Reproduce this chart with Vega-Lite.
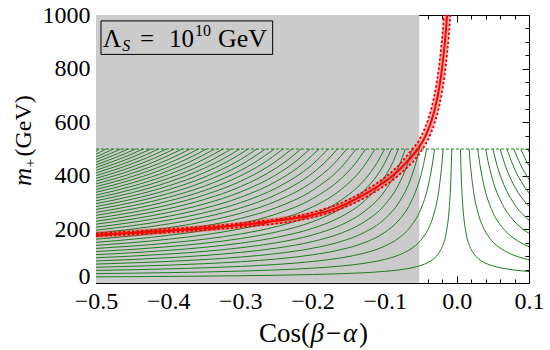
{
"$schema":"https://vega.github.io/schema/vega-lite/v6.json",
"width":433,"height":268,
"autosize":{"type":"none"},
"padding":{"left":96,"top":15,"right":21,"bottom":67},
"background":"white",
"config":{"view":{"stroke":null},"axis":{"labelFont":"Liberation Serif","labelFontSize":24,"labelColor":"black","tickColor":"black","domainColor":"black","grid":false,"titleFont":"Liberation Serif","titleFontWeight":"normal","titleColor":"black","labelOverlap":false,"labelFlush":false}},
"datasets":{
"green":[
{"s":"L0","x":-0.5,"m":23},{"s":"L0","x":-0.45,"m":23.7},{"s":"L0","x":-0.4,"m":24.6},{"s":"L0","x":-0.35,"m":25.7},{"s":"L0","x":-0.3,"m":27.1},{"s":"L0","x":-0.25,"m":28.9},{"s":"L0","x":-0.2,"m":31.6},{"s":"L0","x":-0.16,"m":34.7},{"s":"L0","x":-0.13,"m":38.1},{"s":"L0","x":-0.1,"m":43.4},{"s":"L0","x":-0.08,"m":48.9},{"s":"L0","x":-0.065,"m":55.2},{"s":"L0","x":-0.05,"m":65.3},{"s":"L0","x":-0.04,"m":76.3},{"s":"L0","x":-0.032,"m":90.4},{"s":"L0","x":-0.025,"m":111.2},{"s":"L0","x":-0.02,"m":136.5},{"s":"L0","x":-0.015,"m":183.3},{"s":"L0","x":-0.011,"m":263.6},{"s":"L0","x":-0.009,"m":343.8},{"s":"L0","x":-0.008,"m":407},{"s":"L0","x":-0.007,"m":500},
{"s":"R0","x":0.005,"m":500},{"s":"R0","x":0.006,"m":407},{"s":"R0","x":0.007,"m":343.8},{"s":"R0","x":0.009,"m":263.6},{"s":"R0","x":0.013,"m":183.3},{"s":"R0","x":0.018,"m":136.5},{"s":"R0","x":0.023,"m":111.2},{"s":"R0","x":0.03,"m":90.4},{"s":"R0","x":0.038,"m":76.3},{"s":"R0","x":0.048,"m":65.3},{"s":"R0","x":0.063,"m":55.2},{"s":"R0","x":0.078,"m":48.9},{"s":"R0","x":0.1,"m":42.9},
{"s":"L1","x":-0.5,"m":35},{"s":"L1","x":-0.45,"m":36.6},{"s":"L1","x":-0.4,"m":38.6},{"s":"L1","x":-0.35,"m":41.1},{"s":"L1","x":-0.3,"m":44.3},{"s":"L1","x":-0.25,"m":48.8},{"s":"L1","x":-0.2,"m":55.4},{"s":"L1","x":-0.16,"m":63.4},{"s":"L1","x":-0.13,"m":72.8},{"s":"L1","x":-0.1,"m":87.9},{"s":"L1","x":-0.08,"m":104.7},{"s":"L1","x":-0.065,"m":124.9},{"s":"L1","x":-0.05,"m":159.2},{"s":"L1","x":-0.04,"m":199.8},{"s":"L1","x":-0.032,"m":255.7},{"s":"L1","x":-0.025,"m":345.2},{"s":"L1","x":-0.02,"m":465},{"s":"L1","x":-0.019,"m":500},
{"s":"R1","x":0.017,"m":500},{"s":"R1","x":0.018,"m":465},{"s":"R1","x":0.023,"m":345.2},{"s":"R1","x":0.03,"m":255.7},{"s":"R1","x":0.038,"m":199.8},{"s":"R1","x":0.048,"m":159.2},{"s":"R1","x":0.063,"m":124.9},{"s":"R1","x":0.078,"m":104.7},{"s":"R1","x":0.1,"m":86.6},
{"s":"L2","x":-0.5,"m":46.9},{"s":"L2","x":-0.45,"m":49.5},{"s":"L2","x":-0.4,"m":52.6},{"s":"L2","x":-0.35,"m":56.6},{"s":"L2","x":-0.3,"m":61.9},{"s":"L2","x":-0.25,"m":69.2},{"s":"L2","x":-0.2,"m":80.2},{"s":"L2","x":-0.16,"m":94},{"s":"L2","x":-0.13,"m":110.3},{"s":"L2","x":-0.1,"m":137.5},{"s":"L2","x":-0.08,"m":168.7},{"s":"L2","x":-0.065,"m":207.3},{"s":"L2","x":-0.05,"m":275.4},{"s":"L2","x":-0.04,"m":358.9},{"s":"L2","x":-0.032,"m":478.9},{"s":"L2","x":-0.031,"m":500},
{"s":"R2","x":0.029,"m":500},{"s":"R2","x":0.03,"m":478.9},{"s":"R2","x":0.038,"m":358.9},{"s":"R2","x":0.048,"m":275.4},{"s":"R2","x":0.063,"m":207.3},{"s":"R2","x":0.078,"m":168.7},{"s":"R2","x":0.1,"m":135.2},
{"s":"L3","x":-0.5,"m":58.8},{"s":"L3","x":-0.45,"m":62.3},{"s":"L3","x":-0.4,"m":66.6},{"s":"L3","x":-0.35,"m":72.1},{"s":"L3","x":-0.3,"m":79.4},{"s":"L3","x":-0.25,"m":89.6},{"s":"L3","x":-0.2,"m":105.1},{"s":"L3","x":-0.16,"m":124.9},{"s":"L3","x":-0.13,"m":148.6},{"s":"L3","x":-0.1,"m":188.6},{"s":"L3","x":-0.08,"m":235.4},{"s":"L3","x":-0.065,"m":294.3},{"s":"L3","x":-0.05,"m":400.4},{"s":"L3","x":-0.045,"m":457.1},{"s":"L3","x":-0.042,"m":500},
{"s":"R3","x":0.04,"m":500},{"s":"R3","x":0.043,"m":457.1},{"s":"R3","x":0.048,"m":400.4},{"s":"R3","x":0.063,"m":294.3},{"s":"R3","x":0.078,"m":235.4},{"s":"R3","x":0.1,"m":185.1},
{"s":"L4","x":-0.5,"m":70.6},{"s":"L4","x":-0.45,"m":75},{"s":"L4","x":-0.4,"m":80.4},{"s":"L4","x":-0.35,"m":87.4},{"s":"L4","x":-0.3,"m":96.7},{"s":"L4","x":-0.25,"m":109.7},{"s":"L4","x":-0.2,"m":129.7},{"s":"L4","x":-0.16,"m":155.3},{"s":"L4","x":-0.13,"m":186.3},{"s":"L4","x":-0.1,"m":239.1},{"s":"L4","x":-0.08,"m":301.6},{"s":"L4","x":-0.065,"m":380.9},{"s":"L4","x":-0.056,"m":455.6},{"s":"L4","x":-0.052,"m":500},
{"s":"R4","x":0.05,"m":500},{"s":"R4","x":0.054,"m":455.6},{"s":"R4","x":0.063,"m":380.9},{"s":"R4","x":0.078,"m":301.6},{"s":"R4","x":0.1,"m":234.5},
{"s":"L5","x":-0.5,"m":82.3},{"s":"L5","x":-0.45,"m":87.6},{"s":"L5","x":-0.4,"m":94.3},{"s":"L5","x":-0.35,"m":102.7},{"s":"L5","x":-0.3,"m":114.1},{"s":"L5","x":-0.25,"m":130.1},{"s":"L5","x":-0.2,"m":154.6},{"s":"L5","x":-0.16,"m":186.4},{"s":"L5","x":-0.13,"m":225},{"s":"L5","x":-0.1,"m":291.4},{"s":"L5","x":-0.08,"m":370.5},{"s":"L5","x":-0.07,"m":432},{"s":"L5","x":-0.062,"m":500},
{"s":"R5","x":0.06,"m":500},{"s":"R5","x":0.068,"m":432},{"s":"R5","x":0.078,"m":370.5},{"s":"R5","x":0.1,"m":285.5},
{"s":"L6","x":-0.5,"m":94.1},{"s":"L6","x":-0.45,"m":100.3},{"s":"L6","x":-0.4,"m":108},{"s":"L6","x":-0.35,"m":117.9},{"s":"L6","x":-0.3,"m":131.3},{"s":"L6","x":-0.25,"m":150.2},{"s":"L6","x":-0.2,"m":179.2},{"s":"L6","x":-0.16,"m":217},{"s":"L6","x":-0.13,"m":263.1},{"s":"L6","x":-0.1,"m":342.8},{"s":"L6","x":-0.08,"m":438.3},{"s":"L6","x":-0.0715,"m":500},
{"s":"R6","x":0.0695,"m":500},{"s":"R6","x":0.078,"m":438.3},{"s":"R6","x":0.1,"m":335.7},
{"s":"L7","x":-0.5,"m":105.7},{"s":"L7","x":-0.45,"m":112.8},{"s":"L7","x":-0.4,"m":121.7},{"s":"L7","x":-0.35,"m":133.1},{"s":"L7","x":-0.3,"m":148.5},{"s":"L7","x":-0.25,"m":170.3},{"s":"L7","x":-0.2,"m":203.9},{"s":"L7","x":-0.16,"m":247.8},{"s":"L7","x":-0.13,"m":301.5},{"s":"L7","x":-0.1,"m":394.8},{"s":"L7","x":-0.09,"m":443.3},{"s":"L7","x":-0.081,"m":500},
{"s":"R7","x":0.079,"m":500},{"s":"R7","x":0.088,"m":443.3},{"s":"R7","x":0.1,"m":386.6},
{"s":"L8","x":-0.5,"m":117.3},{"s":"L8","x":-0.45,"m":125.3},{"s":"L8","x":-0.4,"m":135.4},{"s":"L8","x":-0.35,"m":148.3},{"s":"L8","x":-0.3,"m":165.7},{"s":"L8","x":-0.25,"m":190.4},{"s":"L8","x":-0.2,"m":228.6},{"s":"L8","x":-0.16,"m":278.7},{"s":"L8","x":-0.13,"m":340.2},{"s":"L8","x":-0.1,"m":447.3},{"s":"L8","x":-0.0905,"m":500},
{"s":"R8","x":0.0885,"m":500},{"s":"R8","x":0.094,"m":467.9},{"s":"R8","x":0.1,"m":437.8},
{"s":"L9","x":-0.5,"m":128.9},{"s":"L9","x":-0.45,"m":137.8},{"s":"L9","x":-0.4,"m":149},{"s":"L9","x":-0.35,"m":163.4},{"s":"L9","x":-0.3,"m":182.8},{"s":"L9","x":-0.25,"m":210.5},{"s":"L9","x":-0.2,"m":253.3},{"s":"L9","x":-0.16,"m":309.6},{"s":"L9","x":-0.13,"m":378.8},{"s":"L9","x":-0.115,"m":429.9},{"s":"L9","x":-0.1,"m":500},
{"s":"R9","x":0.098,"m":500},{"s":"R9","x":0.1,"m":489.2},
{"s":"L10","x":-0.5,"m":140.4},{"s":"L10","x":-0.45,"m":150.5},{"s":"L10","x":-0.4,"m":163.2},{"s":"L10","x":-0.35,"m":179.7},{"s":"L10","x":-0.3,"m":202},{"s":"L10","x":-0.25,"m":233.9},{"s":"L10","x":-0.2,"m":283.7},{"s":"L10","x":-0.16,"m":349.6},{"s":"L10","x":-0.13,"m":431.3},{"s":"L10","x":-0.1133,"m":500},
{"s":"L11","x":-0.5,"m":151.8},{"s":"L11","x":-0.45,"m":163.2},{"s":"L11","x":-0.4,"m":177.5},{"s":"L11","x":-0.35,"m":196.1},{"s":"L11","x":-0.3,"m":221.3},{"s":"L11","x":-0.25,"m":257.6},{"s":"L11","x":-0.2,"m":314.5},{"s":"L11","x":-0.16,"m":390.5},{"s":"L11","x":-0.14,"m":448.2},{"s":"L11","x":-0.1265,"m":500},
{"s":"L12","x":-0.5,"m":163.2},{"s":"L12","x":-0.45,"m":175.8},{"s":"L12","x":-0.4,"m":191.7},{"s":"L12","x":-0.35,"m":212.5},{"s":"L12","x":-0.3,"m":240.7},{"s":"L12","x":-0.25,"m":281.5},{"s":"L12","x":-0.2,"m":345.9},{"s":"L12","x":-0.16,"m":432.4},{"s":"L12","x":-0.1396,"m":500},
{"s":"L13","x":-0.5,"m":174.6},{"s":"L13","x":-0.45,"m":188.5},{"s":"L13","x":-0.4,"m":206},{"s":"L13","x":-0.35,"m":228.9},{"s":"L13","x":-0.3,"m":260.2},{"s":"L13","x":-0.25,"m":305.7},{"s":"L13","x":-0.2,"m":377.8},{"s":"L13","x":-0.17,"m":445.7},{"s":"L13","x":-0.1526,"m":500},
{"s":"L14","x":-0.5,"m":185.9},{"s":"L14","x":-0.45,"m":201},{"s":"L14","x":-0.4,"m":220.3},{"s":"L14","x":-0.35,"m":245.4},{"s":"L14","x":-0.3,"m":279.9},{"s":"L14","x":-0.25,"m":330.1},{"s":"L14","x":-0.2,"m":410.1},{"s":"L14","x":-0.185,"m":444.3},{"s":"L14","x":-0.1655,"m":500},
{"s":"L15","x":-0.5,"m":197.1},{"s":"L15","x":-0.45,"m":213.6},{"s":"L15","x":-0.4,"m":234.5},{"s":"L15","x":-0.35,"m":261.9},{"s":"L15","x":-0.3,"m":299.6},{"s":"L15","x":-0.25,"m":354.7},{"s":"L15","x":-0.2,"m":442.9},{"s":"L15","x":-0.1783,"m":500},
{"s":"L16","x":-0.5,"m":208.3},{"s":"L16","x":-0.45,"m":226.1},{"s":"L16","x":-0.4,"m":248.7},{"s":"L16","x":-0.35,"m":278.4},{"s":"L16","x":-0.3,"m":319.4},{"s":"L16","x":-0.25,"m":379.5},{"s":"L16","x":-0.22,"m":431.2},{"s":"L16","x":-0.191,"m":500},
{"s":"L17","x":-0.5,"m":219.4},{"s":"L17","x":-0.45,"m":238.5},{"s":"L17","x":-0.4,"m":262.9},{"s":"L17","x":-0.35,"m":295},{"s":"L17","x":-0.3,"m":339.3},{"s":"L17","x":-0.25,"m":404.5},{"s":"L17","x":-0.225,"m":450.1},{"s":"L17","x":-0.2036,"m":500},
{"s":"L18","x":-0.5,"m":230.5},{"s":"L18","x":-0.45,"m":251},{"s":"L18","x":-0.4,"m":277.1},{"s":"L18","x":-0.35,"m":311.6},{"s":"L18","x":-0.3,"m":359.3},{"s":"L18","x":-0.25,"m":429.7},{"s":"L18","x":-0.235,"m":457.8},{"s":"L18","x":-0.2161,"m":500},
{"s":"L19","x":-0.5,"m":241.5},{"s":"L19","x":-0.45,"m":263.3},{"s":"L19","x":-0.4,"m":291.2},{"s":"L19","x":-0.35,"m":328.1},{"s":"L19","x":-0.3,"m":379.3},{"s":"L19","x":-0.26,"m":437.1},{"s":"L19","x":-0.2285,"m":500},
{"s":"L20","x":-0.5,"m":252.5},{"s":"L20","x":-0.45,"m":275.7},{"s":"L20","x":-0.4,"m":305.4},{"s":"L20","x":-0.35,"m":344.8},{"s":"L20","x":-0.3,"m":399.6},{"s":"L20","x":-0.27,"m":443.9},{"s":"L20","x":-0.2408,"m":500},
{"s":"L21","x":-0.5,"m":263.4},{"s":"L21","x":-0.45,"m":288},{"s":"L21","x":-0.4,"m":319.5},{"s":"L21","x":-0.35,"m":361.3},{"s":"L21","x":-0.3,"m":419.5},{"s":"L21","x":-0.28,"m":449.9},{"s":"L21","x":-0.253,"m":500},
{"s":"L22","x":-0.5,"m":274.3},{"s":"L22","x":-0.45,"m":300.3},{"s":"L22","x":-0.4,"m":333.7},{"s":"L22","x":-0.35,"m":378.1},{"s":"L22","x":-0.3,"m":440},{"s":"L22","x":-0.2651,"m":500},
{"s":"L23","x":-0.5,"m":285.1},{"s":"L23","x":-0.45,"m":312.5},{"s":"L23","x":-0.4,"m":347.8},{"s":"L23","x":-0.35,"m":394.7},{"s":"L23","x":-0.3,"m":460.3},{"s":"L23","x":-0.2771,"m":500},
{"s":"L24","x":-0.5,"m":295.9},{"s":"L24","x":-0.45,"m":324.7},{"s":"L24","x":-0.4,"m":361.9},{"s":"L24","x":-0.35,"m":411.4},{"s":"L24","x":-0.32,"m":450},{"s":"L24","x":-0.289,"m":500},
{"s":"L25","x":-0.5,"m":306.6},{"s":"L25","x":-0.45,"m":336.9},{"s":"L25","x":-0.4,"m":376},{"s":"L25","x":-0.35,"m":428.1},{"s":"L25","x":-0.325,"m":461.4},{"s":"L25","x":-0.3008,"m":500},
{"s":"L26","x":-0.5,"m":317.2},{"s":"L26","x":-0.45,"m":349},{"s":"L26","x":-0.4,"m":390},{"s":"L26","x":-0.35,"m":444.9},{"s":"L26","x":-0.3125,"m":500},
{"s":"L27","x":-0.5,"m":327.8},{"s":"L27","x":-0.45,"m":361.1},{"s":"L27","x":-0.4,"m":404.1},{"s":"L27","x":-0.36,"m":448.7},{"s":"L27","x":-0.3241,"m":500},
{"s":"L28","x":-0.5,"m":338.4},{"s":"L28","x":-0.45,"m":373.2},{"s":"L28","x":-0.4,"m":418.2},{"s":"L28","x":-0.37,"m":452.1},{"s":"L28","x":-0.3356,"m":500},
{"s":"L29","x":-0.5,"m":348.9},{"s":"L29","x":-0.45,"m":385.2},{"s":"L29","x":-0.4,"m":432.3},{"s":"L29","x":-0.375,"m":461.4},{"s":"L29","x":-0.347,"m":500},
{"s":"L30","x":-0.5,"m":359.3},{"s":"L30","x":-0.45,"m":397.2},{"s":"L30","x":-0.4,"m":446.4},{"s":"L30","x":-0.38,"m":470.4},{"s":"L30","x":-0.3583,"m":500},
{"s":"L31","x":-0.5,"m":369.7},{"s":"L31","x":-0.45,"m":409.2},{"s":"L31","x":-0.4,"m":460.5},{"s":"L31","x":-0.3695,"m":500},
{"s":"L32","x":-0.5,"m":380.1},{"s":"L32","x":-0.45,"m":421.2},{"s":"L32","x":-0.42,"m":451.4},{"s":"L32","x":-0.3806,"m":500},
{"s":"L33","x":-0.5,"m":390.4},{"s":"L33","x":-0.45,"m":433.2},{"s":"L33","x":-0.42,"m":464.7},{"s":"L33","x":-0.3916,"m":500},
{"s":"L34","x":-0.5,"m":400.6},{"s":"L34","x":-0.45,"m":445.2},{"s":"L34","x":-0.43,"m":466.5},{"s":"L34","x":-0.4025,"m":500},
{"s":"L35","x":-0.5,"m":410.8},{"s":"L35","x":-0.45,"m":457.2},{"s":"L35","x":-0.43,"m":479.4},{"s":"L35","x":-0.4133,"m":500},
{"s":"L36","x":-0.5,"m":420.9},{"s":"L36","x":-0.45,"m":469.4},{"s":"L36","x":-0.424,"m":500},
{"s":"L37","x":-0.5,"m":431},{"s":"L37","x":-0.45,"m":481.6},{"s":"L37","x":-0.4346,"m":500},
{"s":"L38","x":-0.5,"m":441},{"s":"L38","x":-0.47,"m":471.2},{"s":"L38","x":-0.4451,"m":500},
{"s":"L39","x":-0.5,"m":451},{"s":"L39","x":-0.47,"m":482.8},{"s":"L39","x":-0.4555,"m":500},
{"s":"L40","x":-0.5,"m":460.9},{"s":"L40","x":-0.48,"m":482.9},{"s":"L40","x":-0.4658,"m":500},
{"s":"L41","x":-0.5,"m":470.8},{"s":"L41","x":-0.49,"m":482.5},{"s":"L41","x":-0.476,"m":500},
{"s":"L42","x":-0.5,"m":480.6},{"s":"L42","x":-0.4861,"m":500},
{"s":"L43","x":-0.5,"m":490.4},{"s":"L43","x":-0.4961,"m":500}
],
"red":[
{"b":"c","x":-0.5,"m":180},{"b":"c","x":-0.45,"m":187},{"b":"c","x":-0.4,"m":195},{"b":"c","x":-0.35,"m":204},{"b":"c","x":-0.3,"m":216},{"b":"c","x":-0.25,"m":232},{"b":"c","x":-0.2,"m":254},{"b":"c","x":-0.175,"m":272},{"b":"c","x":-0.15,"m":300},{"b":"c","x":-0.125,"m":335},{"b":"c","x":-0.1,"m":378},{"b":"c","x":-0.09,"m":398},{"b":"c","x":-0.08,"m":422},{"b":"c","x":-0.07,"m":450},{"b":"c","x":-0.06,"m":480},{"b":"c","x":-0.052,"m":508},{"b":"c","x":-0.045,"m":540},{"b":"c","x":-0.04,"m":570},{"b":"c","x":-0.035,"m":607},{"b":"c","x":-0.03,"m":655},{"b":"c","x":-0.025,"m":720},{"b":"c","x":-0.0215,"m":780},{"b":"c","x":-0.018,"m":860},{"b":"c","x":-0.0155,"m":930},{"b":"c","x":-0.0135,"m":1000},
{"b":"u","x":-0.5,"m":185},{"b":"u","x":-0.4,"m":201},{"b":"u","x":-0.3,"m":223},{"b":"u","x":-0.2,"m":263},{"b":"u","x":-0.15,"m":311},{"b":"u","x":-0.125,"m":348},{"b":"u","x":-0.1,"m":393},{"b":"u","x":-0.09,"m":415},{"b":"u","x":-0.08,"m":441},{"b":"u","x":-0.07,"m":472},{"b":"u","x":-0.06,"m":505},{"b":"u","x":-0.056,"m":518},{"b":"u","x":-0.049,"m":550},{"b":"u","x":-0.044,"m":580},{"b":"u","x":-0.039,"m":617},{"b":"u","x":-0.034,"m":665},{"b":"u","x":-0.029,"m":730},{"b":"u","x":-0.0255,"m":790},{"b":"u","x":-0.022,"m":870},{"b":"u","x":-0.0195,"m":940},{"b":"u","x":-0.0178,"m":1000},
{"b":"l","x":-0.5,"m":175},{"b":"l","x":-0.4,"m":189},{"b":"l","x":-0.3,"m":209},{"b":"l","x":-0.2,"m":245},{"b":"l","x":-0.15,"m":289},{"b":"l","x":-0.125,"m":322},{"b":"l","x":-0.1,"m":363},{"b":"l","x":-0.09,"m":381},{"b":"l","x":-0.08,"m":403},{"b":"l","x":-0.07,"m":428},{"b":"l","x":-0.06,"m":455},{"b":"l","x":-0.048,"m":498},{"b":"l","x":-0.041,"m":529},{"b":"l","x":-0.036,"m":559},{"b":"l","x":-0.031,"m":595},{"b":"l","x":-0.026,"m":642},{"b":"l","x":-0.021,"m":706},{"b":"l","x":-0.0175,"m":764},{"b":"l","x":-0.014,"m":843},{"b":"l","x":-0.0115,"m":911},{"b":"l","x":-0.0095,"m":980},{"b":"l","x":-0.009,"m":1000}
]},
"layer":[
{"data":{"values":[{"x":-0.5,"x2":-0.052,"m":0,"m2":1000}]},
 "mark":{"type":"rect","fill":"#cbcbcb"},
 "encoding":{
  "x":{"field":"x","type":"quantitative","scale":{"domain":[-0.5,0.1],"nice":false,"zero":false},
   "axis":{"orient":"bottom","values":[-0.5,-0.4,-0.3,-0.2,-0.1,0,0.1],"format":".1f","tickSize":-7,"labelPadding":13,"labelFont":"Liberation Serif","labelFontSize":24,"title":null}},
  "x2":{"field":"x2"},
  "y":{"field":"m","type":"quantitative","scale":{"domain":[0,1000],"nice":false,"zero":false},
   "axis":{"orient":"left","values":[0,200,400,600,800,1000],"format":"d","tickSize":-7,"labelPadding":13,"labelFont":"Liberation Serif","labelFontSize":24,"labelBaseline":{"condition":{"test":"datum.value === 0","value":"alphabetic"},"value":"middle"},"title":null}},
  "y2":{"field":"m2"}}},
{"data":{"name":"green"},
 "mark":{"type":"line","interpolate":"monotone","strokeWidth":1,"color":"#1f7d1f","clip":true},
 "encoding":{
  "x":{"field":"x","type":"quantitative","scale":{"domain":[-0.5,0.1],"nice":false,"zero":false},
   "axis":{"orient":"top","values":[-0.5,-0.4,-0.3,-0.2,-0.1,0,0.1],"labels":false,"tickSize":-7,"title":null}},
  "y":{"field":"m","type":"quantitative","scale":{"domain":[0,1000],"nice":false,"zero":false},
   "axis":{"orient":"right","values":[0,200,400,600,800,1000],"labels":false,"tickSize":-7,"title":null}},
  "detail":{"field":"s"}}},
{"data":{"values":[{}]},
 "mark":{"type":"rule","color":"#1f7d1f","strokeWidth":1,"strokeDash":[3,2]},
 "encoding":{"y":{"datum":500,"type":"quantitative","scale":{"domain":[0,1000],"nice":false,"zero":false},"axis":null}}},
{"data":{"name":"red"},
 "transform":[{"filter":"datum.b=='c'"}],
 "mark":{"type":"line","interpolate":"monotone","strokeWidth":7,"color":"#ff0000","opacity":0.3,"clip":true},
 "encoding":{
  "x":{"field":"x","type":"quantitative","scale":{"domain":[-0.5,0.1],"nice":false,"zero":false},
   "axis":{"orient":"bottom","values":[-0.48,-0.46,-0.44,-0.42,-0.38,-0.36,-0.34,-0.32,-0.28,-0.26,-0.24,-0.22,-0.18,-0.16,-0.14,-0.12,-0.08,-0.06,-0.04,-0.02,0.02,0.04,0.06,0.08],"labels":false,"tickSize":-4,"title":null,"domain":false}},
  "y":{"field":"m","type":"quantitative","scale":{"domain":[0,1000],"nice":false,"zero":false},
   "axis":{"orient":"left","values":[50,100,150,250,300,350,450,500,550,650,700,750,850,900,950],"labels":false,"tickSize":-4,"title":null,"domain":false}}}},
{"data":{"name":"red"},
 "transform":[{"filter":"datum.b!='c'"}],
 "mark":{"type":"line","interpolate":"monotone","strokeWidth":1.8,"color":"#ee0000","strokeDash":[2.5,2],"clip":true},
 "encoding":{
  "x":{"field":"x","type":"quantitative","scale":{"domain":[-0.5,0.1],"nice":false,"zero":false},
   "axis":{"orient":"top","values":[-0.48,-0.46,-0.44,-0.42,-0.38,-0.36,-0.34,-0.32,-0.28,-0.26,-0.24,-0.22,-0.18,-0.16,-0.14,-0.12,-0.08,-0.06,-0.04,-0.02,0.02,0.04,0.06,0.08],"labels":false,"tickSize":-4,"title":null,"domain":false}},
  "y":{"field":"m","type":"quantitative","scale":{"domain":[0,1000],"nice":false,"zero":false},
   "axis":{"orient":"right","values":[50,100,150,250,300,350,450,500,550,650,700,750,850,900,950],"labels":false,"tickSize":-4,"title":null,"domain":false}},
  "detail":{"field":"b"}}},
{"data":{"name":"red"},
 "transform":[{"filter":"datum.b=='c'"}],
 "mark":{"type":"line","interpolate":"monotone","strokeWidth":2,"color":"#ff0000","clip":true},
 "encoding":{
  "x":{"field":"x","type":"quantitative","scale":{"domain":[-0.5,0.1],"nice":false,"zero":false},"axis":null},
  "y":{"field":"m","type":"quantitative","scale":{"domain":[0,1000],"nice":false,"zero":false},"axis":null}}},
{"data":{"values":[{}]},
 "mark":{"type":"rect","fillOpacity":0,"stroke":"black","strokeWidth":1},
 "encoding":{
  "x":{"datum":-0.4931,"type":"quantitative","scale":{"domain":[-0.5,0.1],"nice":false,"zero":false},"axis":null},
  "x2":{"datum":-0.2552},
  "y":{"datum":853,"type":"quantitative","scale":{"domain":[0,1000],"nice":false,"zero":false},"axis":null},
  "y2":{"datum":978}}},
{"data":{"values":[{}]},
 "mark":{"type":"text","text":"Λ","font":"Liberation Serif","fontSize":25,"align":"left","baseline":"alphabetic","color":"black"},
 "encoding":{"x":{"datum":-0.4903,"type":"quantitative","scale":{"domain":[-0.5,0.1],"nice":false,"zero":false},"axis":null},"y":{"datum":880,"type":"quantitative","scale":{"domain":[0,1000],"nice":false,"zero":false},"axis":null}}},
{"data":{"values":[{}]},
 "mark":{"type":"text","text":"S","font":"Liberation Serif","fontSize":16,"fontStyle":"italic","align":"left","baseline":"alphabetic","color":"black"},
 "encoding":{"x":{"datum":-0.4635,"type":"quantitative","scale":{"domain":[-0.5,0.1],"nice":false,"zero":false},"axis":null},"y":{"datum":864,"type":"quantitative","scale":{"domain":[0,1000],"nice":false,"zero":false},"axis":null}}},
{"data":{"values":[{}]},
 "mark":{"type":"text","text":"=","font":"Liberation Serif","fontSize":25,"align":"left","baseline":"alphabetic","color":"black"},
 "encoding":{"x":{"datum":-0.439,"type":"quantitative","scale":{"domain":[-0.5,0.1],"nice":false,"zero":false},"axis":null},"y":{"datum":880,"type":"quantitative","scale":{"domain":[0,1000],"nice":false,"zero":false},"axis":null}}},
{"data":{"values":[{}]},
 "mark":{"type":"text","text":"10","font":"Liberation Serif","fontSize":25,"align":"left","baseline":"alphabetic","color":"black"},
 "encoding":{"x":{"datum":-0.3989,"type":"quantitative","scale":{"domain":[-0.5,0.1],"nice":false,"zero":false},"axis":null},"y":{"datum":880,"type":"quantitative","scale":{"domain":[0,1000],"nice":false,"zero":false},"axis":null}}},
{"data":{"values":[{}]},
 "mark":{"type":"text","text":"10","font":"Liberation Serif","fontSize":16,"align":"left","baseline":"alphabetic","color":"black"},
 "encoding":{"x":{"datum":-0.3628,"type":"quantitative","scale":{"domain":[-0.5,0.1],"nice":false,"zero":false},"axis":null},"y":{"datum":921,"type":"quantitative","scale":{"domain":[0,1000],"nice":false,"zero":false},"axis":null}}},
{"data":{"values":[{}]},
 "mark":{"type":"text","text":"GeV","font":"Liberation Serif","fontSize":26,"align":"left","baseline":"alphabetic","color":"black"},
 "encoding":{"x":{"datum":-0.331,"type":"quantitative","scale":{"domain":[-0.5,0.1],"nice":false,"zero":false},"axis":null},"y":{"datum":880,"type":"quantitative","scale":{"domain":[0,1000],"nice":false,"zero":false},"axis":null}}},
{"data":{"values":[{}]},
 "mark":{"type":"text","text":"m","font":"Liberation Serif","fontSize":25,"fontStyle":"italic","align":"left","baseline":"alphabetic","angle":270,"color":"black"},
 "encoding":{"x":{"datum":-0.5901,"type":"quantitative","scale":{"domain":[-0.5,0.1],"nice":false,"zero":false},"axis":null},"y":{"datum":362,"type":"quantitative","scale":{"domain":[0,1000],"nice":false,"zero":false},"axis":null}}},
{"data":{"values":[{}]},
 "mark":{"type":"text","text":"+","font":"Liberation Serif","fontSize":15,"align":"left","baseline":"alphabetic","angle":270,"color":"black"},
 "encoding":{"x":{"datum":-0.5845,"type":"quantitative","scale":{"domain":[-0.5,0.1],"nice":false,"zero":false},"axis":null},"y":{"datum":432,"type":"quantitative","scale":{"domain":[0,1000],"nice":false,"zero":false},"axis":null}}},
{"data":{"values":[{}]},
 "mark":{"type":"text","text":"(GeV)","font":"Liberation Serif","fontSize":24,"align":"left","baseline":"alphabetic","angle":270,"color":"black"},
 "encoding":{"x":{"datum":-0.5901,"type":"quantitative","scale":{"domain":[-0.5,0.1],"nice":false,"zero":false},"axis":null},"y":{"datum":472,"type":"quantitative","scale":{"domain":[0,1000],"nice":false,"zero":false},"axis":null}}},
{"data":{"values":[{}]},
 "mark":{"type":"text","text":"Cos(","font":"Liberation Serif","fontSize":27,"align":"left","baseline":"alphabetic","color":"black"},
 "encoding":{"x":{"datum":-0.2741,"type":"quantitative","scale":{"domain":[-0.5,0.1],"nice":false,"zero":false},"axis":null},"y":{"datum":-221,"type":"quantitative","scale":{"domain":[0,1000],"nice":false,"zero":false},"axis":null}}},
{"data":{"values":[{}]},
 "mark":{"type":"text","text":"β","font":"Liberation Serif","fontSize":27,"fontStyle":"italic","align":"left","baseline":"alphabetic","color":"black"},
 "encoding":{"x":{"datum":-0.2028,"type":"quantitative","scale":{"domain":[-0.5,0.1],"nice":false,"zero":false},"axis":null},"y":{"datum":-221,"type":"quantitative","scale":{"domain":[0,1000],"nice":false,"zero":false},"axis":null}}},
{"data":{"values":[{}]},
 "mark":{"type":"text","text":"−","font":"Liberation Serif","fontSize":27,"align":"left","baseline":"alphabetic","color":"black"},
 "encoding":{"x":{"datum":-0.1813,"type":"quantitative","scale":{"domain":[-0.5,0.1],"nice":false,"zero":false},"axis":null},"y":{"datum":-221,"type":"quantitative","scale":{"domain":[0,1000],"nice":false,"zero":false},"axis":null}}},
{"data":{"values":[{}]},
 "mark":{"type":"text","text":"α","font":"Liberation Serif","fontSize":27,"fontStyle":"italic","align":"left","baseline":"alphabetic","color":"black"},
 "encoding":{"x":{"datum":-0.1578,"type":"quantitative","scale":{"domain":[-0.5,0.1],"nice":false,"zero":false},"axis":null},"y":{"datum":-221,"type":"quantitative","scale":{"domain":[0,1000],"nice":false,"zero":false},"axis":null}}},
{"data":{"values":[{}]},
 "mark":{"type":"text","text":")","font":"Liberation Serif","fontSize":27,"align":"left","baseline":"alphabetic","color":"black"},
 "encoding":{"x":{"datum":-0.1356,"type":"quantitative","scale":{"domain":[-0.5,0.1],"nice":false,"zero":false},"axis":null},"y":{"datum":-221,"type":"quantitative","scale":{"domain":[0,1000],"nice":false,"zero":false},"axis":null}}}
],
"resolve":{"axis":{"x":"independent","y":"independent"}}
}
